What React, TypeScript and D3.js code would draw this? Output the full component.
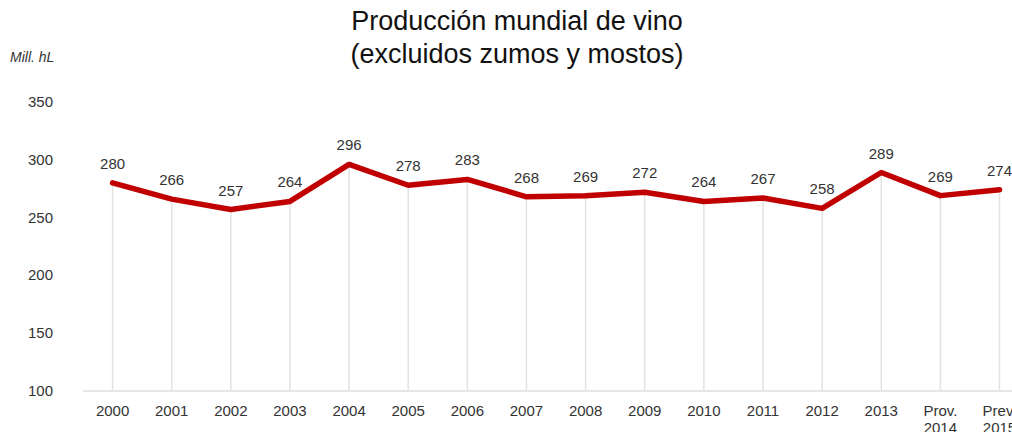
import React from "react";
import { scaleBand, scaleLinear, line } from "d3";

// categories on the x axis (two-line labels split with "\n")
const categories = [
  "2000", "2001", "2002", "2003", "2004", "2005", "2006", "2007",
  "2008", "2009", "2010", "2011", "2012", "2013", "Prov.\n2014", "Prev.\n2015",
];
// world wine production, million hL
const production = [280, 266, 257, 264, 296, 278, 283, 268, 269, 272, 264, 267, 258, 289, 269, 274];
const yTicks = [100, 150, 200, 250, 300, 350];

const W = 1012;
const H = 432;
const font = "Arial, 'Liberation Sans', sans-serif";
const textColor = "#333";

const App = () => {
  // band centers land on the category ticks
  const x = scaleBand<number>()
    .domain(categories.map((c, i) => i))
    .range([83, 83 + 16 * 59.13]);
  const y = scaleLinear().domain([100, 350]).range([391, 102]);

  const cx = (i: number) => (x(i) as number) + x.bandwidth() / 2;

  const path = line<number>()
    .x((d, i) => cx(i))
    .y((d) => y(d))(production);

  return (
    <svg
      width={W}
      height={H}
      style={{ position: "absolute", left: 0, top: 0, background: "#fff" }}
      fontFamily={font}
    >
      {/* title */}
      <text x={517} y={30} textAnchor="middle" fontSize={27} fill="#111">
        Producción mundial de vino
      </text>
      <text x={517} y={63} textAnchor="middle" fontSize={27} fill="#111">
        (excluidos zumos y mostos)
      </text>

      {/* unit label */}
      <text x={10} y={62} fontSize={14} fontStyle="italic" fill={textColor}>
        Mill. hL
      </text>

      {/* y axis labels */}
      {yTicks.map((t) => (
        <text key={t} x={53} y={y(t) + 5} textAnchor="end" fontSize={15} fill={textColor}>
          {t}
        </text>
      ))}

      {/* drop lines */}
      {production.map((v, i) => (
        <line
          key={i}
          x1={cx(i)}
          x2={cx(i)}
          y1={y(v)}
          y2={y(100)}
          stroke="#e2e2e2"
          strokeWidth={1.5}
        />
      ))}

      {/* baseline */}
      <line x1={83} x2={W} y1={y(100)} y2={y(100)} stroke="#e6e6e6" strokeWidth={2} />

      {/* x labels */}
      {categories.map((c, i) =>
        c.split("\n").map((part, j) => (
          <text
            key={i + "-" + j}
            x={cx(i)}
            y={416 + j * 17}
            textAnchor="middle"
            fontSize={15}
            fill={textColor}
          >
            {part}
          </text>
        ))
      )}

      {/* series line */}
      <path d={path ?? ""} fill="none" stroke="#c00000" strokeWidth={5.5} strokeLinejoin="round" strokeLinecap="round" />

      {/* value labels */}
      {production.map((v, i) => (
        <text key={i} x={cx(i)} y={y(v) - 14} textAnchor="middle" fontSize={15} fill={textColor}>
          {v}
        </text>
      ))}
    </svg>
  );
};

export default App;
